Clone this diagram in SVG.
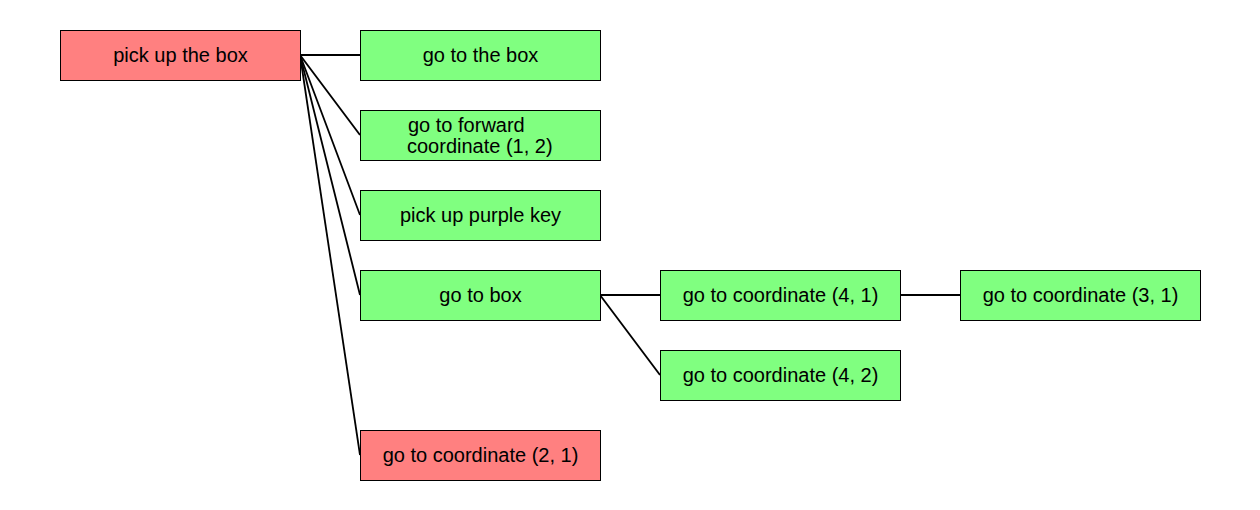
<svg xmlns="http://www.w3.org/2000/svg" width="1260" height="510" viewBox="0 0 1260 510">
<style>
.box{stroke:#000;stroke-width:1}
.red{fill:#FF8080}
.green{fill:#80FF80}
text{font-family:"Liberation Sans",Arial,sans-serif;font-size:20px;fill:#000}
.c{text-anchor:middle}
.conn line{stroke:#000;stroke-width:1.8}
</style>
<rect width="1260" height="510" fill="#fff"/>
<g id="connectors" class="conn">
<line x1="300" y1="55" x2="360" y2="55"/>
<line x1="300" y1="55" x2="360" y2="135"/>
<line x1="300" y1="55" x2="360" y2="215"/>
<line x1="300" y1="55" x2="360" y2="295"/>
<line x1="300" y1="55" x2="360" y2="455"/>
<line x1="600" y1="295" x2="660" y2="295"/>
<line x1="600" y1="295" x2="660" y2="375"/>
<line x1="900" y1="295" x2="960" y2="295"/>
</g>
<g id="n-pickup-box">
<rect class="box red" x="60.5" y="30.5" width="240" height="50"/>
<text class="c" x="180.5" y="62">pick up the box</text>
</g>
<g id="n-goto-the-box">
<rect class="box green" x="360.5" y="30.5" width="240" height="50"/>
<text class="c" x="480.5" y="62">go to the box</text>
</g>
<g id="n-goto-forward">
<rect class="box green" x="360.5" y="110.5" width="240" height="50"/>
<text x="408" y="131.5">go to forward</text>
<text x="407" y="152.5">coordinate (1, 2)</text>
</g>
<g id="n-pickup-key">
<rect class="box green" x="360.5" y="190.5" width="240" height="50"/>
<text class="c" x="480.5" y="222">pick up purple key</text>
</g>
<g id="n-goto-box">
<rect class="box green" x="360.5" y="270.5" width="240" height="50"/>
<text class="c" x="480.5" y="302">go to box</text>
</g>
<g id="n-goto-21">
<rect class="box red" x="360.5" y="430.5" width="240" height="50"/>
<text class="c" x="480.5" y="462">go to coordinate (2, 1)</text>
</g>
<g id="n-goto-41">
<rect class="box green" x="660.5" y="270.5" width="240" height="50"/>
<text class="c" x="780.5" y="302">go to coordinate (4, 1)</text>
</g>
<g id="n-goto-42">
<rect class="box green" x="660.5" y="350.5" width="240" height="50"/>
<text class="c" x="780.5" y="382">go to coordinate (4, 2)</text>
</g>
<g id="n-goto-31">
<rect class="box green" x="960.5" y="270.5" width="240" height="50"/>
<text class="c" x="1080.5" y="302">go to coordinate (3, 1)</text>
</g>
</svg>
